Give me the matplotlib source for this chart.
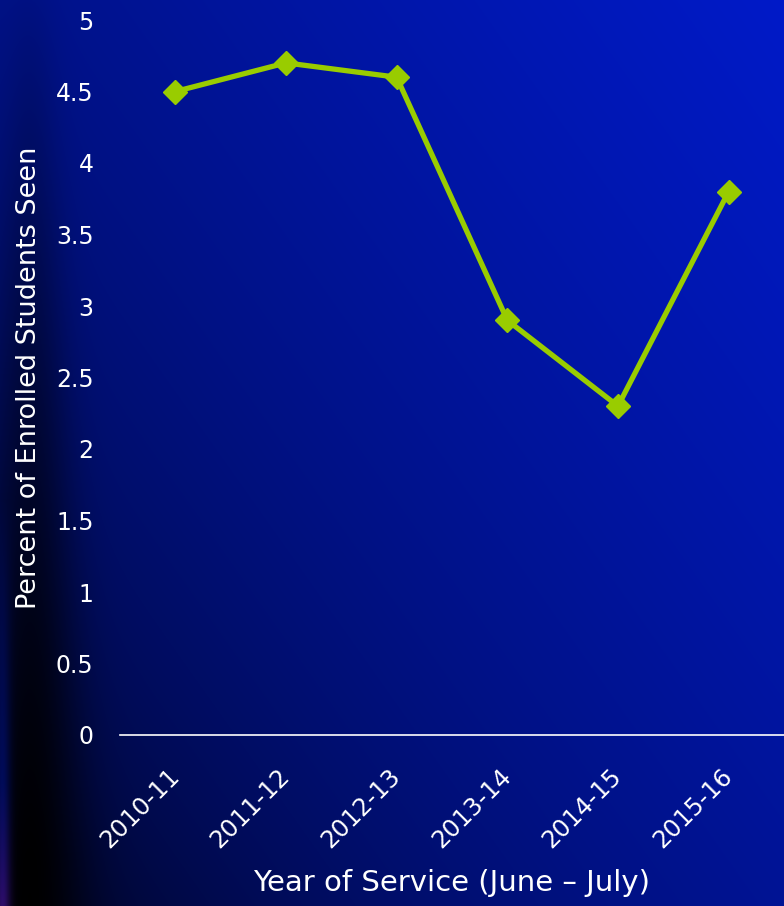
import matplotlib
matplotlib.use('Agg')
import matplotlib.pyplot as plt
import numpy as np

# Percent of enrolled students seen per service year
years = ['2010-11', '2011-12', '2012-13', '2013-14', '2014-15', '2015-16']
percent_seen = [4.5, 4.7, 4.6, 2.9, 2.3, 3.8]
y_ticks = [0, 0.5, 1, 1.5, 2, 2.5, 3, 3.5, 4, 4.5, 5]

W, H = 784, 906
fig = plt.figure(figsize=(W / 100, H / 100), dpi=100)

# --- background: blue gradient, brighter toward the upper right ---
yy, xx = np.mgrid[0:H, 0:W].astype(float)
f = np.clip(0.55 * xx / W + 0.45 * (1 - yy / H), 0, 1) ** 0.5
# dark band running down the left side, strongest near the bottom
depth = np.clip(yy / H + 0.05, 0, 1)
band = 1 - 0.97 * np.exp(-((xx - 30) / (22 + 30 * depth)) ** 2) * depth
f = f * band
bg = np.zeros((H, W, 3))
bg[..., 1] = 26 / 255 * f
bg[..., 2] = 200 / 255 * f
# thin bluish streak at the far left edge, turning purple at the very bottom
streak = np.exp(-((xx - 2) / 8) ** 2) * np.clip((yy - 500) / 406, 0, 1)
bg[..., 0] += 0.18 * streak * np.clip((yy - 780) / 126, 0, 1)
bg[..., 1] += 0.05 * streak
bg[..., 2] += 0.40 * streak
bg = np.clip(bg, 0, 1)

bg_ax = fig.add_axes([0, 0, 1, 1], zorder=0)
bg_ax.imshow(bg, aspect='auto', interpolation='bilinear')
bg_ax.axis('off')

# --- line chart ---
ax = fig.add_axes([120 / W, (H - 735) / H, 1 - 120 / W, (735 - 20) / H], zorder=1)
ax.patch.set_alpha(0)
x = np.arange(len(years))
ax.plot(x, percent_seen, color='#99cc00', lw=3.8, marker='D', markersize=12,
        solid_joinstyle='round', clip_on=False)

ax.set_xlim(-0.5, len(years) - 0.5)
ax.set_ylim(0, 5)
ax.set_yticks(y_ticks)
ax.set_yticklabels([f'{t:g}' for t in y_ticks])
ax.set_xticks(x)
ax.set_xticklabels(years, rotation=45, ha='right', va='center',
                   rotation_mode='anchor')

font = 'DejaVu Sans'
for lab in ax.get_yticklabels():
    lab.set_fontfamily(font)
    lab.set_fontsize(17)
    lab.set_color('white')
for lab in ax.get_xticklabels():
    lab.set_fontfamily(font)
    lab.set_fontsize(17.5)
    lab.set_color('white')

ax.tick_params(axis='y', length=0, pad=19)
ax.tick_params(axis='x', length=0, pad=27)
for side in ['top', 'right', 'left']:
    ax.spines[side].set_visible(False)
ax.spines['bottom'].set_color('white')
ax.spines['bottom'].set_linewidth(1.2)

ax.set_ylabel('Percent of Enrolled Students Seen', fontsize=19.5, color='white',
              fontfamily=font, labelpad=10)
ax.set_xlabel('Year of Service (June \u2013 July)', fontsize=21, color='white',
              fontfamily=font, labelpad=12)

fig.savefig('out.png', dpi=100)
